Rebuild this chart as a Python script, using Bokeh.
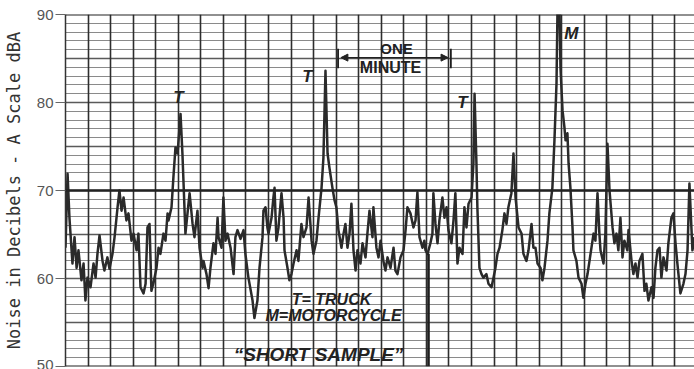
from bokeh.plotting import figure
from bokeh.models import (Range1d, SingleIntervalTicker, Grid, Span,
                          Arrow, NormalHead)
from bokeh.core.properties import value
from bokeh.embed import file_html
from bokeh.resources import INLINE

# ---- data: time (seconds) and level (dBA) ----
time_s = [0.0, 1.1, 2.1, 3.7, 4.8, 5.9, 6.9, 8.5, 9.6, 10.6, 11.7, 13.3, 14.9, 16.0, 17.0,
          18.1, 19.7, 20.7, 22.3, 23.4, 25.0, 26.1, 27.7, 28.7, 29.8, 30.9, 32.4, 33.5,
          35.1, 36.2, 37.8, 38.8, 39.9, 41.5, 42.6, 43.6, 44.7, 45.7, 46.8, 48.4, 49.5,
          50.5, 52.1, 53.2, 54.3, 54.8, 56.4, 57.4, 58.5, 59.6, 61.2, 62.2, 62.8, 63.8,
          64.9, 66.0, 67.6, 68.6, 70.2, 71.3, 72.9, 73.4, 75.0, 76.1, 77.1, 78.7, 79.8,
          80.9, 81.4, 83.0, 84.0, 85.1, 86.2, 87.8, 89.4, 90.4, 91.5, 93.1, 94.7, 95.7,
          97.3, 99.5, 100.5, 102.1, 103.2, 104.8, 105.3, 106.4, 107.4, 108.0, 109.6,
          110.6, 111.2, 112.2, 113.3, 114.9, 116.0, 116.5, 118.1, 119.1, 120.2, 121.3,
          122.9, 123.9, 125.5, 126.6, 128.2, 129.3, 130.9, 131.9, 133.5, 134.6, 136.2,
          137.2, 138.3, 139.4, 140.4, 142.0, 143.1, 144.1, 145.2, 146.8, 147.9, 148.9,
          150.0, 151.1, 152.1, 153.2, 154.3, 155.3, 156.9, 158.0, 159.6, 160.6, 161.7,
          163.3, 163.8, 165.4, 166.5, 167.6, 169.1, 170.2, 171.3, 172.9, 174.5, 175.5,
          176.6, 178.2, 179.8, 180.9, 181.9, 183.5, 185.1, 186.2, 187.2, 188.3, 189.9,
          190.9, 191.5, 192.6, 194.1, 195.2, 195.7, 196.8, 197.9, 198.9, 200.5, 201.6,
          202.7, 203.7, 205.3, 206.4, 207.4, 208.5, 209.6, 211.2, 212.2, 213.3, 214.4,
          216.0, 217.0, 217.6, 218.6, 219.1, 220.2, 221.3, 222.3, 223.9, 225.0, 226.6,
          227.7, 228.7, 229.8, 230.9, 232.4, 233.5, 234.6, 235.6, 237.2, 238.3, 239.4,
          241.0, 242.6, 243.6, 245.2, 246.3, 247.9, 248.9, 250.0, 251.1, 252.7, 253.7,
          254.8, 256.4, 257.4, 259.0, 260.1, 261.2, 261.7, 262.8, 263.3, 264.4, 265.4,
          266.0, 267.0, 267.6, 268.6, 269.7, 270.2, 271.8, 272.9, 274.5, 275.5, 276.6,
          277.7, 279.3, 280.9, 281.9, 283.0, 284.0, 284.6, 286.2, 287.2, 288.3, 289.4,
          291.0, 292.0, 293.1, 294.1, 295.2, 296.3, 297.3, 298.9, 299.5, 301.1, 302.1,
          303.2, 304.3, 305.3, 306.9, 308.0, 309.0, 310.1, 311.7, 312.8, 313.8, 314.9,
          316.0, 317.0, 318.1, 319.7, 320.7, 322.3, 323.4, 324.5, 325.5, 327.1, 328.7,
          329.8, 330.9, 331.9, 333.5, 334.6]
level_dba = [63.5, 71.9, 66.9, 61.7, 64.7, 61.2, 63.2, 59.8, 61.7, 57.5, 60.1, 59.0, 61.7, 60.1, 62.8,
             64.9, 62.0, 60.9, 62.4, 61.1, 62.8, 64.7, 68.1, 70.0, 67.7, 69.2, 66.6, 67.4,
             64.3, 65.1, 63.2, 65.1, 59.0, 58.3, 59.4, 65.8, 66.2, 58.6, 59.5, 61.2, 63.5,
             62.8, 65.1, 64.3, 67.4, 66.6, 68.1, 71.5, 74.9, 74.2, 78.7, 74.2, 70.8, 65.1,
             67.4, 69.7, 66.2, 64.7, 67.7, 63.5, 61.2, 62.0, 60.5, 58.9, 61.2, 64.0, 62.8,
             66.9, 64.7, 63.5, 69.2, 64.3, 65.1, 63.5, 60.5, 64.7, 65.5, 64.5, 65.5, 62.8,
             60.1, 57.5, 55.5, 57.5, 61.2, 64.7, 67.7, 68.1, 65.8, 65.1, 66.9,
             69.2, 70.3, 64.3, 65.8, 69.7, 66.9, 63.2, 61.2, 59.8, 60.5, 61.7,
             63.2, 62.0, 66.2, 64.7, 65.8, 69.2, 64.3, 62.8, 64.3, 66.9, 70.3,
             73.7, 83.6, 74.2, 72.6, 70.3, 68.9, 68.1, 65.5, 63.5, 65.1, 66.2,
             63.5, 65.1, 68.5, 63.2, 60.9, 63.2, 61.7, 64.0, 62.4, 65.1, 67.7,
             64.7, 68.1, 63.5, 62.4, 64.3, 62.0, 60.9, 62.4, 61.2, 63.5, 60.9,
             60.5, 62.4, 63.2, 65.5, 68.1, 67.4, 65.8, 66.6, 69.8, 64.7, 63.5,
             64.3, 63.2, 62.8, 64.0, 65.1, 69.7, 66.2, 64.0, 66.6, 69.2, 66.9,
             68.1, 65.5, 64.0, 66.6, 69.7, 61.7, 63.5, 62.8, 68.1, 65.8, 68.5,
             69.2, 73.1, 81.0, 73.1, 68.1, 61.2, 60.5, 60.1, 60.5, 59.4, 59.0,
             60.1, 61.2, 62.8, 63.5, 65.5, 67.4, 66.2, 68.1, 69.7, 74.2, 69.2,
             65.8, 65.1, 62.8, 62.0, 63.2, 66.2, 63.5, 63.5, 61.7, 61.2, 59.8,
             61.2, 64.3, 67.4, 70.3, 75.7, 82.2, 90.3, 90.3, 84.0, 79.1, 77.2,
             75.7, 76.5, 73.1, 70.3, 65.8, 63.2, 62.0, 60.1, 59.4, 57.8, 59.4,
             60.5, 62.8, 65.1, 64.3, 69.7, 65.1, 63.2, 61.7, 65.1, 75.3, 70.0,
             65.8, 64.0, 65.1, 63.2, 66.9, 62.4, 64.3, 63.2, 65.5, 62.0, 60.5,
             61.7, 60.1, 62.0, 62.8, 58.6, 59.4, 57.5, 59.0, 57.8, 61.2, 63.2,
             63.5, 60.1, 62.4, 60.9, 64.0, 66.9, 67.4, 64.0, 61.7, 58.3, 59.4,
             60.5, 63.2, 70.8, 63.2, 64.7]

y_ticks = [50, 60, 70, 80, 90]
threshold_dba = 70
grid_seconds = 12          # one chart division = 12 s

# event labels (T = truck, M = motorcycle)
event_text = ["T", "T", "T", "M"]
event_t = [60.1, 128.7, 211.2, 269.1]
event_db = [80.6, 83.0, 80.0, 87.8]

minute_start, minute_end = 145.0, 205.0
marker_t = 193.1
marker_top_db = 62.8

fig = figure(width=694, height=369, output_backend="svg", toolbar_location=None,
             x_range=Range1d(0, 334.6), y_range=Range1d(50, 90),
             x_axis_type=None, min_border_left=65, min_border_right=0,
             min_border_top=14, min_border_bottom=3,
             background_fill_color="white", border_fill_color="white")
fig.outline_line_color = None

# y axis
fig.yaxis.ticker = y_ticks
fig.yaxis.major_tick_out = 10
fig.yaxis.major_tick_in = 0
fig.yaxis.minor_tick_out = 0
fig.yaxis.minor_tick_in = 0
fig.yaxis.major_tick_line_color = "#666666"
fig.yaxis.axis_line_color = "#333333"
fig.yaxis.axis_line_width = 1.5
fig.yaxis.major_label_standoff = 2
fig.yaxis.major_label_text_font = "Liberation Sans"
fig.yaxis.major_label_text_font_size = "15px"
fig.yaxis.major_label_text_color = "#555555"
fig.yaxis.axis_label = "Noise in Decibels - A Scale dBA"
fig.yaxis.axis_label_text_font = "DejaVu Sans Mono"
fig.yaxis.axis_label_text_font_size = "17px"
fig.yaxis.axis_label_text_font_style = "normal"
fig.yaxis.axis_label_text_color = "#333333"
fig.yaxis.axis_label_standoff = 10

# chart-paper grid
fig.ygrid.ticker = SingleIntervalTicker(interval=5, num_minor_ticks=5)
fig.ygrid.grid_line_color = "#5a5a5a"
fig.ygrid.grid_line_width = 1.3
fig.ygrid.minor_grid_line_color = "#8a8a8a"
fig.ygrid.minor_grid_line_width = 1
xgrid = Grid(dimension=0, ticker=SingleIntervalTicker(interval=grid_seconds),
             grid_line_color="#2e2e2e", grid_line_width=1.6)
fig.add_layout(xgrid)

for v, w in [(90, 2.2), (50, 2.2), (threshold_dba, 2.4)]:
    fig.add_layout(Span(location=v, dimension="width", line_color="#222222", line_width=w))

# trace
fig.line(time_s, level_dba, line_color="#2a2a2a", line_width=2.5, line_join="round")

# short-sample marker
fig.segment(x0=[marker_t], y0=[50], x1=[marker_t], y1=[marker_top_db],
            line_color="#1e1e1e", line_width=2.6)

# one-minute arrow
fig.segment(x0=[minute_start, minute_end], y0=[83.9, 83.9],
            x1=[minute_start, minute_end], y1=[86.1, 86.1],
            line_color="#1e1e1e", line_width=1.8)
fig.add_layout(Arrow(start=NormalHead(size=7, fill_color="#222222", line_color="#222222"),
                     end=NormalHead(size=7, fill_color="#222222", line_color="#222222"),
                     x_start=minute_start + 1.5, y_start=85.1,
                     x_end=minute_end - 1.5, y_end=85.1,
                     line_color="#222222", line_width=1.3))

hand = "Liberation Sans"
fig.text(x=[176.1], y=[85.2], text=["ONE"], text_font=value(hand),
         text_font_size="15px", text_font_style="bold", text_align="center",
         text_baseline="bottom", text_color="#222222")
fig.text(x=[172.9], y=[84.0], text=["MINUTE"], text_font=value(hand),
         text_font_size="16px", text_font_style="bold", text_align="center",
         text_baseline="middle", text_color="#222222")

fig.text(x=event_t, y=event_db, text=event_text, text_font=value(hand),
         text_font_size="17px", text_font_style="bold italic", text_align="center",
         text_baseline="middle", text_color="#222222")

fig.text(x=[141.5], y=[57.6], text=["T= TRUCK"], text_font=value(hand),
         text_font_size="16px", text_font_style="bold italic", text_align="center",
         text_baseline="middle", text_color="#222222")
fig.text(x=[142.6], y=[55.8], text=["M=MOTORCYCLE"], text_font=value(hand),
         text_font_size="16px", text_font_style="bold italic", text_align="center",
         text_baseline="middle", text_color="#222222")
fig.text(x=[134.6], y=[51.4], text=["\u201cSHORT SAMPLE\u201d"], text_font=value(hand),
         text_font_size="19px", text_font_style="bold italic", text_align="center",
         text_baseline="middle", text_color="#222222")

open("out.html", "w").write(file_html(fig, INLINE))
